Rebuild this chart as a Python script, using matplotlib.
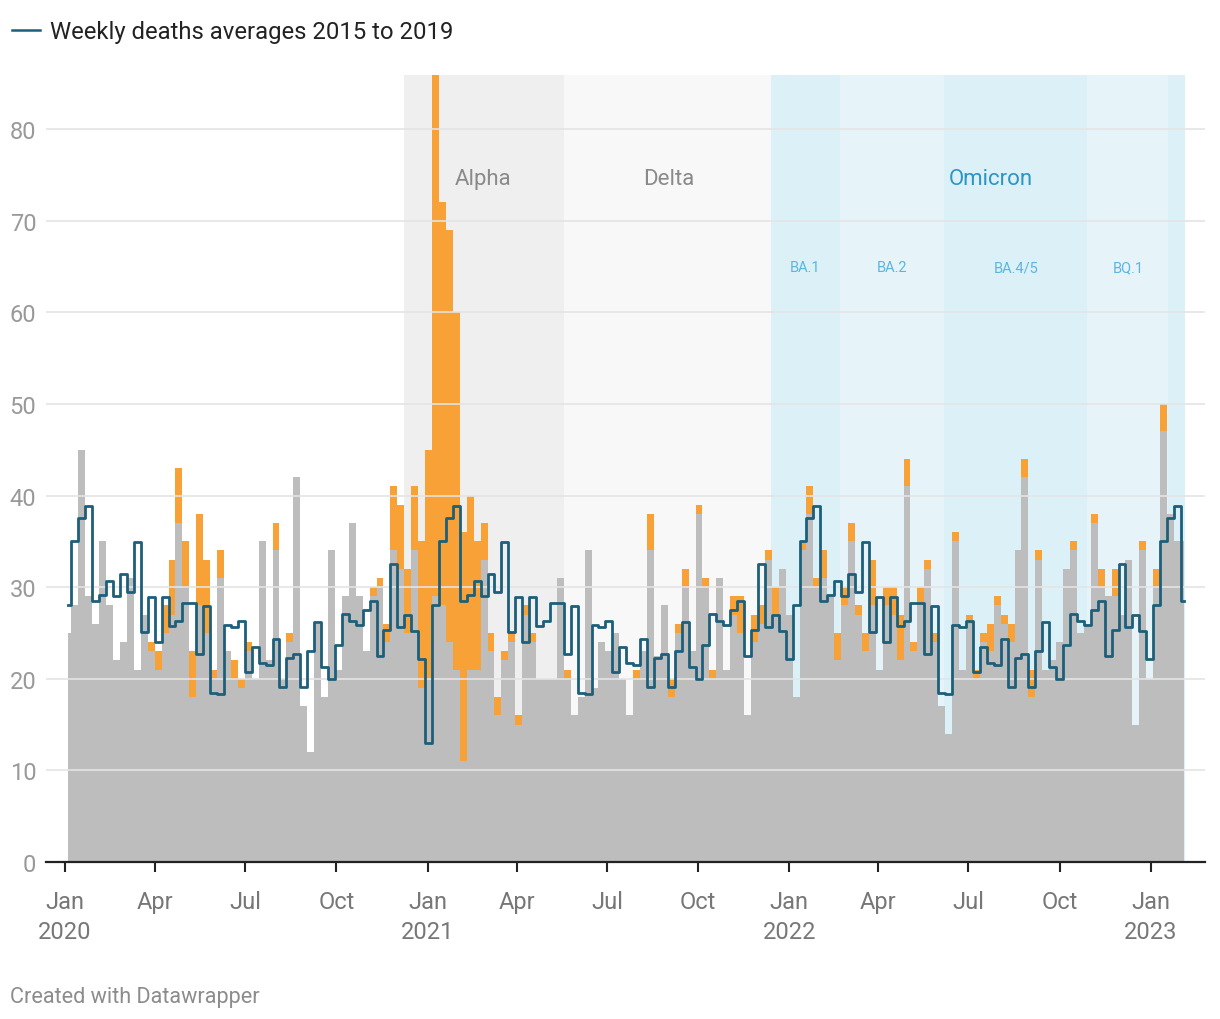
import numpy as np
import pandas as pd
import matplotlib
matplotlib.use("Agg")
import matplotlib.pyplot as plt
from matplotlib.lines import Line2D

plt.rcParams['font.family'] = ['Roboto', 'DejaVu Sans']

# weekly data, first week 4 Jan 2020, last week early Feb 2023
weeks = pd.date_range('2020-01-04', periods=162, freq='7D')

other_deaths = [
    25, 28, 45, 29, 26, 35, 28, 22, 24, 31, 21, 27, 23, 21, 25, 27, 37, 30, 18, 28,
    25, 20, 31, 23, 20, 19, 23, 20, 35, 22, 34, 20, 24, 42, 17, 12, 26, 18, 34, 21,
    29, 37, 29, 23, 29, 30, 24, 34, 32, 25, 34, 19, 20,
    29, 28, 24, 21, 11, 21, 21, 33, 23, 16, 22, 24, 15, 27, 24, 20, 20, 20, 31, 20,
    16, 18, 34, 19, 24, 23, 25, 20, 16, 20, 23, 34, 22.5, 28, 18, 25, 30, 23, 38, 30,
    20, 31, 21, 27, 25, 16, 24, 26, 33, 27, 32, 27,
    18, 34, 38, 30, 31, 29, 22, 28, 35, 27, 23, 28, 21, 28, 27, 22, 41, 23, 28, 32,
    24, 17, 14, 35, 21, 26, 20, 24, 23, 28, 26, 24, 34, 42, 18, 33, 21, 22, 24, 32,
    34, 25, 26, 37, 30, 29, 29, 27, 33, 15, 34, 20,
    30, 47, 38, 35, 35,
]
covid_deaths = [
    0, 0, 0, 0, 0, 0, 0, 0, 0, 0, 0, 0, 1, 2, 3, 6, 6, 5, 5, 10,
    8, 1, 3, 0, 2, 1, 1, 0, 0, 0, 3, 0, 1, 0, 0, 0, 0, 0, 0, 0,
    0, 0, 0, 0, 1, 1, 2, 7, 7, 7, 7, 16, 25,
    61, 44, 45, 39, 25, 19, 14, 4, 2, 2, 1, 1, 1, 1, 1, 0, 0, 0, 0, 1,
    0, 0, 0, 0, 0, 0, 0, 0, 0, 1, 0, 4, 0, 0, 2, 1, 2, 0, 1, 1,
    1, 0, 0, 2, 4, 0, 3, 2, 1, 3, 0, 0,
    0, 1, 3, 1, 3, 0, 3, 2, 2, 1, 2, 5, 0, 2, 3, 5, 3, 1, 2, 1,
    1, 0, 0, 1, 0, 1, 1, 1, 3, 1, 1, 2, 0, 2, 3, 1, 0, 0, 0, 0,
    1, 0, 0, 1, 2, 0, 3, 0, 0, 0, 1, 0,
    2, 3, 0, 0, 0,
]
# weekly deaths averages 2015 to 2019, by ISO week 1..53
avg_2015_2019 = [
    28.0, 35.0, 37.5, 38.9, 28.5, 29.1, 30.7, 29.0, 31.4, 29.5,
    34.9, 25.1, 28.9, 24.0, 28.9, 25.8, 26.3, 28.3, 28.3, 22.7,
    27.9, 18.5, 18.3, 25.9, 25.7, 26.3, 20.7, 23.5, 21.7, 21.5,
    24.3, 19.1, 22.3, 22.7, 19.1, 23.0, 26.2, 21.3, 20.0, 23.7,
    27.1, 26.3, 25.9, 27.5, 28.5, 22.5, 25.3, 32.5, 25.7, 27.0,
    25.2, 22.2, 13.0,
]
# 2020 has 53 weeks, 2021 and 2022 have 52, then 5 weeks of 2023
baseline = avg_2015_2019 + avg_2015_2019[:52] + avg_2015_2019[:52] + avg_2015_2019[:5]

variant_names = ['Alpha', 'Delta', 'BA.1', 'BA.2', 'BA.4/5', 'BQ.1', '']
variant_start = ['2020-12-08', '2021-05-19', '2021-12-14', '2022-02-21',
                 '2022-06-06', '2022-10-29', '2023-01-18']
variant_end = ['2021-05-19', '2021-12-14', '2022-02-21', '2022-06-06',
               '2022-10-29', '2023-01-18', '2023-02-05']

gray = np.array(other_deaths, dtype=float)
top = gray + np.array(covid_deaths, dtype=float)

W, H = 1220, 1020
fig = plt.figure(figsize=(W / 100, H / 100), dpi=100)
ax = fig.add_axes([46 / W, 1 - 863 / H, (1205 - 46) / W, (863 - 76) / H])

band_colors = ['#efefef', '#f8f8f8', '#dcf0f8', '#e6f4fa', '#dcf0f8', '#e6f4fa', '#dcf0f8']
for s, e, c in zip(variant_start, variant_end, band_colors):
    ax.axvspan(pd.Timestamp(s), pd.Timestamp(e), color=c, lw=0, zorder=0)

ax.fill_between(weeks, 0, gray, step='mid', color='#bdbdbd', lw=0, zorder=2)
ax.fill_between(weeks, gray, top, step='mid', color='#f8a136', lw=0, zorder=2)
ax.step(weeks, baseline, where='mid', color='#1d5f7a', lw=2, zorder=3)

d0 = pd.Timestamp('2020-01-01')
ax.set_xlim(d0 - pd.Timedelta(days=19.2), d0 + pd.Timedelta(days=1150.8))
ax.set_ylim(0, 85.9)

# labels for variant periods
ax.text(pd.Timestamp('2021-02-26'), 74.6, 'Alpha', color='#8a8a8a', fontsize=16,
        ha='center', va='center', zorder=4)
ax.text(pd.Timestamp('2021-09-01'), 74.6, 'Delta', color='#8a8a8a', fontsize=16,
        ha='center', va='center', zorder=4)
ax.text(pd.Timestamp('2022-07-24'), 74.6, 'Omicron', color='#2d95c2', fontsize=16,
        ha='center', va='center', zorder=4)
sub_pos = ['2022-01-17', '2022-04-15', '2022-08-18', '2022-12-09']
for name, p in zip(variant_names[2:6], sub_pos):
    ax.text(pd.Timestamp(p), 64.9, name, color='#5bb6df', fontsize=10.5,
            ha='center', va='center', zorder=4)

# axes styling
ax.set_yticks(range(0, 81, 10))
ax.grid(axis='y', color='#e4e4e4', lw=1.2, zorder=1)
ax.set_axisbelow(False)
for sp in ['top', 'right', 'left']:
    ax.spines[sp].set_visible(False)
ax.spines['bottom'].set_color('#222222')
ax.spines['bottom'].set_linewidth(1.6)
ax.spines['bottom'].set_zorder(5)
ax.tick_params(axis='y', length=0, pad=7, labelsize=17, labelcolor='#999999')

tick_dates = pd.date_range('2020-01-01', '2023-01-01', freq='QS')
tick_labels = []
for d in tick_dates:
    if d.month == 1:
        tick_labels.append(d.strftime('%b') + '\n' + str(d.year))
    else:
        tick_labels.append(d.strftime('%b'))
ax.set_xticks(tick_dates)
ax.set_xticklabels(tick_labels, linespacing=1.4)
ax.tick_params(axis='x', length=7, width=1.5, color='#222222', pad=13,
               labelsize=17, labelcolor='#777777')
for t in ax.get_xticklabels():
    t.set_verticalalignment('top')

# legend
fig.add_artist(Line2D([12 / W, 40 / W], [1 - 31 / H, 1 - 31 / H], color='#1d5f7a', lw=1.8))
fig.text(50 / W, 1 - 32 / H, 'Weekly deaths averages 2015 to 2019', fontsize=17.2,
         color='#222222', va='center', ha='left')

fig.text(10 / W, 1 - 998 / H, 'Created with Datawrapper', fontsize=15.6,
         color='#8c8c8c', va='center', ha='left')

fig.savefig('out.png', dpi=100)
